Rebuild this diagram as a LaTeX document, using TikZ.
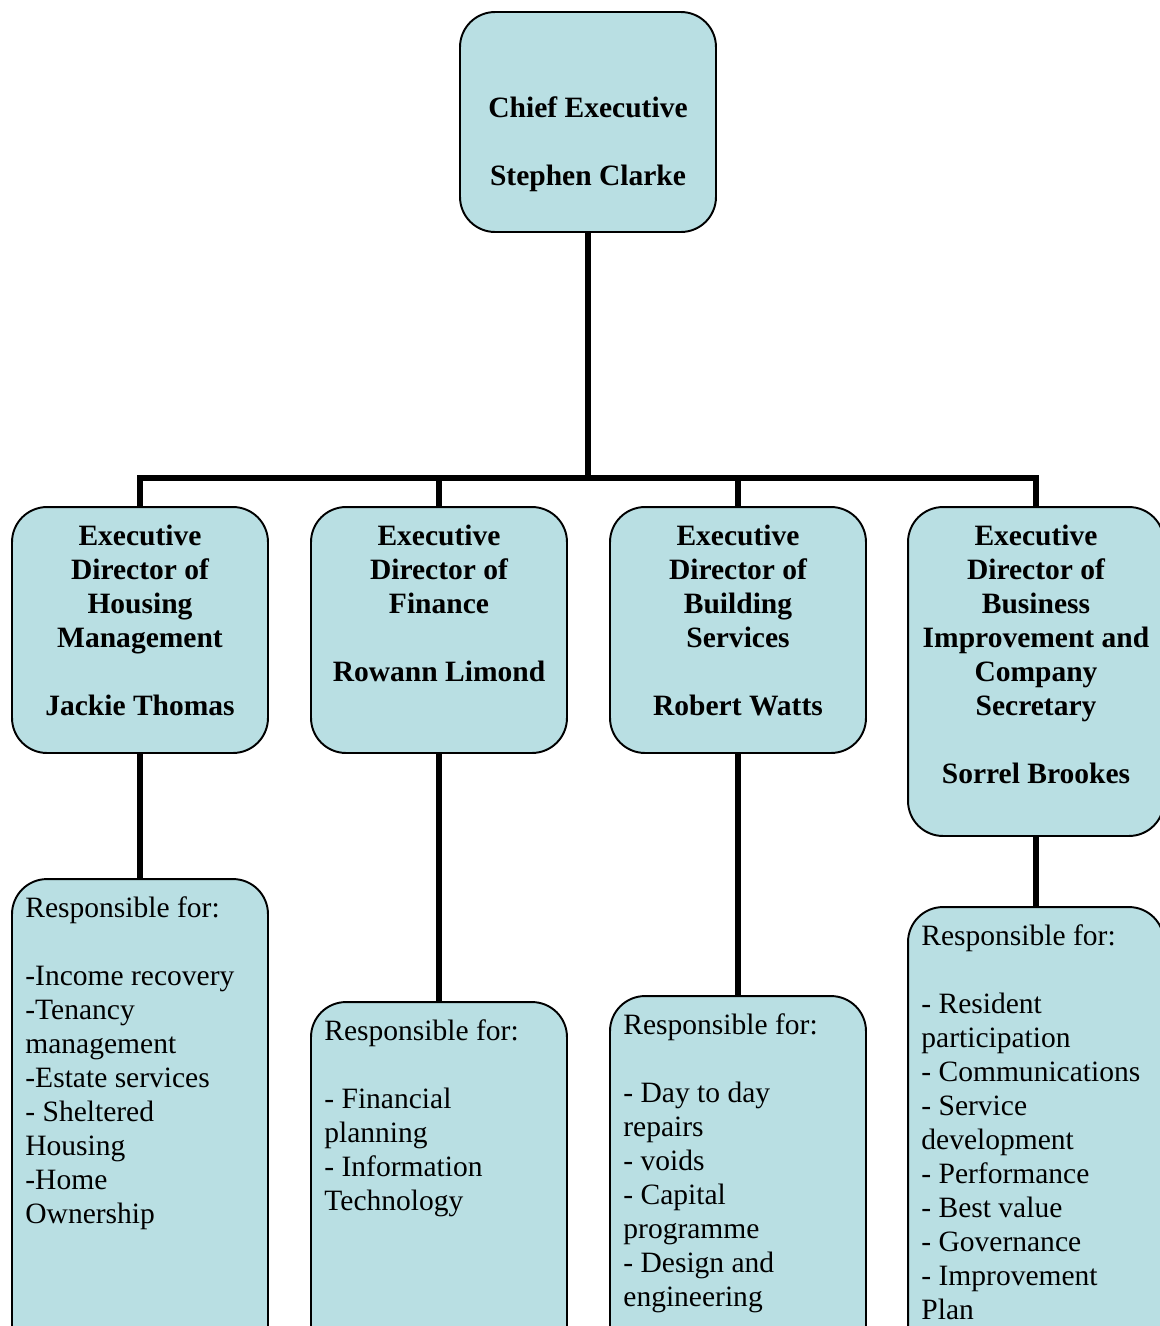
\documentclass[tikz,border=0pt]{standalone}
\usepackage{fontspec}
\setmainfont{Liberation Serif}
\usetikzlibrary{positioning}
\definecolor{boxfill}{HTML}{B9DFE3}

\begin{document}
\begin{tikzpicture}[x=0.02cm,y=-0.02cm,
  box/.style={draw,line width=1.1pt,rounded corners=0.7cm,fill=boxfill,
              minimum width=5.12cm,inner sep=0pt},
  head/.style={align=center,inner sep=0pt,font=\bfseries\fontsize{16.8}{19.35}\selectfont},
  duty/.style={align=left,inner sep=0pt,font=\fontsize{16.8}{19.35}\selectfont},
  link/.style={line width=3.4pt}
]
  \useasboundingbox (0,0) rectangle (1160,1326);
  \clip (0,0) rectangle (1160,1326);

  % boxes
  \node[box,minimum height=4.4cm]    (ceo) at (588,122)  {};
  \node[box,minimum height=4.92cm]   (hm)  at (140,630)  {};
  \node[box,minimum height=4.92cm]   (fin) at (439,630)  {};
  \node[box,minimum height=4.92cm]   (bs)  at (738,630)  {};
  \node[box,minimum height=6.58cm]   (bi)  at (1036,671.5) {};
  \node[box,minimum height=10.42cm]  (hmduty)  at (140,1139.5) {};
  \node[box,minimum height=7.96cm]   (finduty) at (439,1201)   {};
  \node[box,minimum height=8.08cm]   (bsduty)  at (738,1198)   {};
  \node[box,minimum height=9.86cm]   (biduty)  at (1036,1153.5) {};

  % titles
  \node[head,below=1.7cm of ceo.north] {Chief Executive\\[19.35pt]Stephen Clarke};
  \node[head,below=0.38cm of hm.north]  {Executive\\Director of\\Housing\\Management\\[19.35pt]Jackie Thomas};
  \node[head,below=0.38cm of fin.north] {Executive\\Director of\\Finance\\[19.35pt]Rowann Limond};
  \node[head,below=0.38cm of bs.north]  {Executive\\Director of\\Building\\Services\\[19.35pt]Robert Watts};
  \node[head,below=0.38cm of bi.north]  {Executive\\Director of\\Business\\Improvement and\\Company\\Secretary\\[19.35pt]Sorrel Brookes};

  % duties
  \node[duty,anchor=north west] at ([xshift=0.28cm,yshift=-0.36cm]hmduty.north west)
    {Responsible for:\\[19.35pt]-Income recovery\\-Tenancy\\management\\-Estate services\\- Sheltered\\Housing\\-Home\\Ownership};
  \node[duty,anchor=north west] at ([xshift=0.28cm,yshift=-0.36cm]finduty.north west)
    {Responsible for:\\[19.35pt]- Financial\\planning\\- Information\\Technology};
  \node[duty,anchor=north west] at ([xshift=0.28cm,yshift=-0.36cm]bsduty.north west)
    {Responsible for:\\[19.35pt]- Day to day\\repairs\\- voids\\- Capital\\programme\\- Design and\\engineering};
  \node[duty,anchor=north west] at ([xshift=0.28cm,yshift=-0.36cm]biduty.north west)
    {Responsible for:\\[19.35pt]- Resident\\participation\\- Communications\\- Service\\development\\- Performance\\- Best value\\- Governance\\- Improvement\\Plan};

  % links
  \coordinate (split) at (588,478);
  \draw[link] (ceo.south) -- (split);
  \draw[link] (hm.north) |- (split) -| (bi.north);
  \draw[link] (fin.north) -- (fin.north |- split);
  \draw[link] (bs.north) -- (bs.north |- split);
  \draw[link] (hm.south) -- (hmduty.north);
  \draw[link] (fin.south) -- (finduty.north);
  \draw[link] (bs.south) -- (bsduty.north);
  \draw[link] (bi.south) -- (biduty.north);
\end{tikzpicture}
\end{document}
